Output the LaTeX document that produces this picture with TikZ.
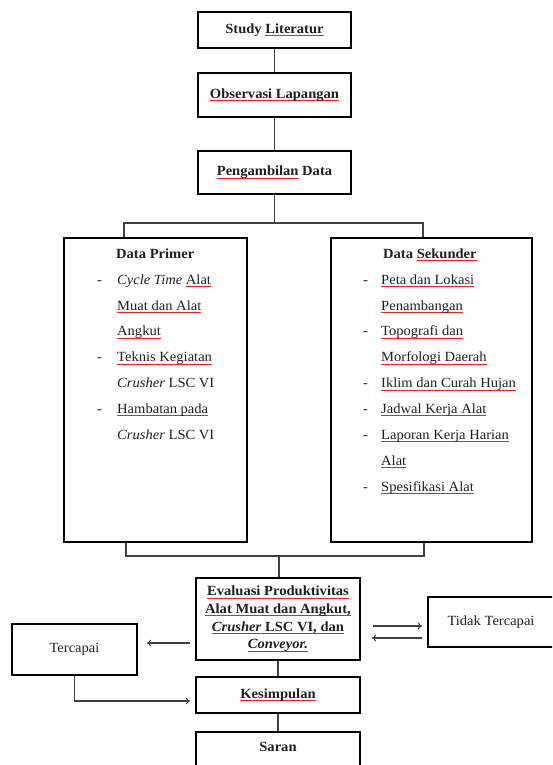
\documentclass[tikz,border=0pt]{standalone}
\usepackage{fontspec}
\setmainfont{Liberation Serif}[FakeStretch=1.04]
\usetikzlibrary{arrows.meta}
\newsavebox\ulbox
\newcommand\ru[1]{\sbox\ulbox{#1}\rlap{\textcolor{red!90}{\rule[-2.4pt]{\wd\ulbox}{0.6pt}}}\usebox\ulbox}
\newcommand\gu[1]{\sbox\ulbox{#1}\rlap{\textcolor{green!60!black}{\rule[-2.4pt]{\wd\ulbox}{0.6pt}}}\usebox\ulbox}
\begin{document}
\begin{tikzpicture}[x=1pt,y=-1pt,
  box/.style={draw=black, line width=2pt, inner sep=0pt, text=black!88,
    font=\fontsize{14}{16}\selectfont\bfseries},
  boxr/.style={box, font=\fontsize{14}{16}\selectfont},
  conn/.style={draw=black!75, line width=1.1pt},
  arr/.style={conn, -{To[length=4pt,width=6.5pt]}},
  lst/.style={anchor=north west, align=left, inner sep=0pt, text=black!88,
    font=\fontsize{14}{25.9}\selectfont}]
\useasboundingbox (0,0) rectangle (552,765);
\clip (0,0) rectangle (552,765);

% top chain
\node[boxr, minimum width=153pt, minimum height=36pt] (study) at (274.5,30) {\textbf{Study} \textbf{\ru{Literatur}}};
\node[box, minimum width=153pt, minimum height=44pt] (obs) at (274.5,95) {\ru{Observasi Lapangan}};
\node[box, minimum width=153pt, minimum height=43pt] (peng) at (274.5,172.5) {\ru{Pengambilan} Data};

% data boxes
\node[box, minimum width=183pt, minimum height=304pt] (prim) at (155.5,390) {};
\node[box, minimum width=201pt, minimum height=304pt] (sek) at (431.5,390) {};

\node[lst] (primt) at (97,248) {%
\rule{0pt}{10pt}\hspace*{19pt}\textbf{Data Primer}\\
\makebox[20pt][l]{-}\textit{Cycle Time} \ru{Alat}\\
\hspace*{20pt}\ru{Muat dan Alat}\\
\hspace*{20pt}\ru{Angkut}\\
\makebox[20pt][l]{-}\ru{Teknis Kegiatan}\\
\hspace*{20pt}\textit{Crusher} LSC VI\\
\makebox[20pt][l]{-}\ru{Hambatan pada}\\
\hspace*{20pt}\textit{Crusher} LSC VI};

\node[lst] (sekt) at (363,248) {%
\rule{0pt}{10pt}\hspace*{20pt}\textbf{Data \ru{Sekunder}}\\
\makebox[18pt][l]{-}\ru{Peta dan Lokasi}\\
\hspace*{18pt}\ru{Penambangan}\\
\makebox[18pt][l]{-}\ru{Topografi dan}\\
\hspace*{18pt}\ru{Morfologi Daerah}\\
\makebox[18pt][l]{-}\ru{Iklim dan Curah Hujan}\\
\makebox[18pt][l]{-}\ru{Jadwal Kerja Alat}\\
\makebox[18pt][l]{-}\ru{Laporan Kerja Harian}\\
\hspace*{18pt}\ru{Alat}\\
\makebox[18pt][l]{-}\ru{Spesifikasi Alat}};

% lower part
\node[box, minimum width=164pt, minimum height=82pt, align=center,
  font=\fontsize{14}{17.6}\selectfont\bfseries] (eval) at (278,619)
  {\ru{Evaluasi Produktivitas}\\
   \ru{Alat Muat dan Angkut,}\\
   \gu{\textit{Crusher} LSC VI, dan}\\
   \gu{\textit{Conveyor.}}};
\node[box, minimum width=164pt, minimum height=36pt] (kes) at (278,695) {\ru{Kesimpulan}};
\node[box, minimum width=164pt, minimum height=56pt] (saran) at (278,760) {};
\node[inner sep=0pt, text=black!88, font=\fontsize{14}{16}\selectfont\bfseries] (sarant) at (278,747) {Saran};
\node[boxr, minimum width=125pt, minimum height=51pt] (tc) at (74.5,649.5) {Tercapai};
\node[boxr, minimum width=126pt, minimum height=50pt] (td) at (491,622) {Tidak Tercapai};

% connectors top
\coordinate (bm) at (274.5,223);
\coordinate (bl) at (124,223);
\coordinate (br) at (423,223);
\draw[conn] (study) -- (obs);
\draw[conn] (obs) -- (peng);
\draw[conn] (peng) -- (bm);
\draw[conn] (bl |- prim.north) -- (bl) -- (br) -- (br |- sek.north);

% connectors bottom bracket
\coordinate (dl) at (126,556);
\coordinate (dr) at (424,556);
\coordinate (dm) at (279,556);
\draw[conn] (dl |- prim.south) -- (dl) -- (dr) -- (dr |- sek.south);
\draw[conn] (dm) -- (dm |- eval.north);
\draw[conn] (eval) -- (kes);
\draw[conn] (kes) -- (saran);

% arrows
\coordinate (ya) at (0,643);
\coordinate (yb) at (0,701);
\coordinate (yc) at (0,626);
\coordinate (yd) at (0,638);
\draw[arr, shorten <=5pt, shorten >=9pt] (eval.west |- ya) -- (tc.east |- ya);
\draw[arr, shorten >=5pt] (tc.south) |- (kes.west |- yb);
\draw[arr, shorten <=12pt, shorten >=5pt] (eval.east |- yc) -- (td.west |- yc);
\draw[arr, shorten <=5pt, shorten >=11pt] (td.west |- yd) -- (eval.east |- yd);
\end{tikzpicture}
\end{document}
